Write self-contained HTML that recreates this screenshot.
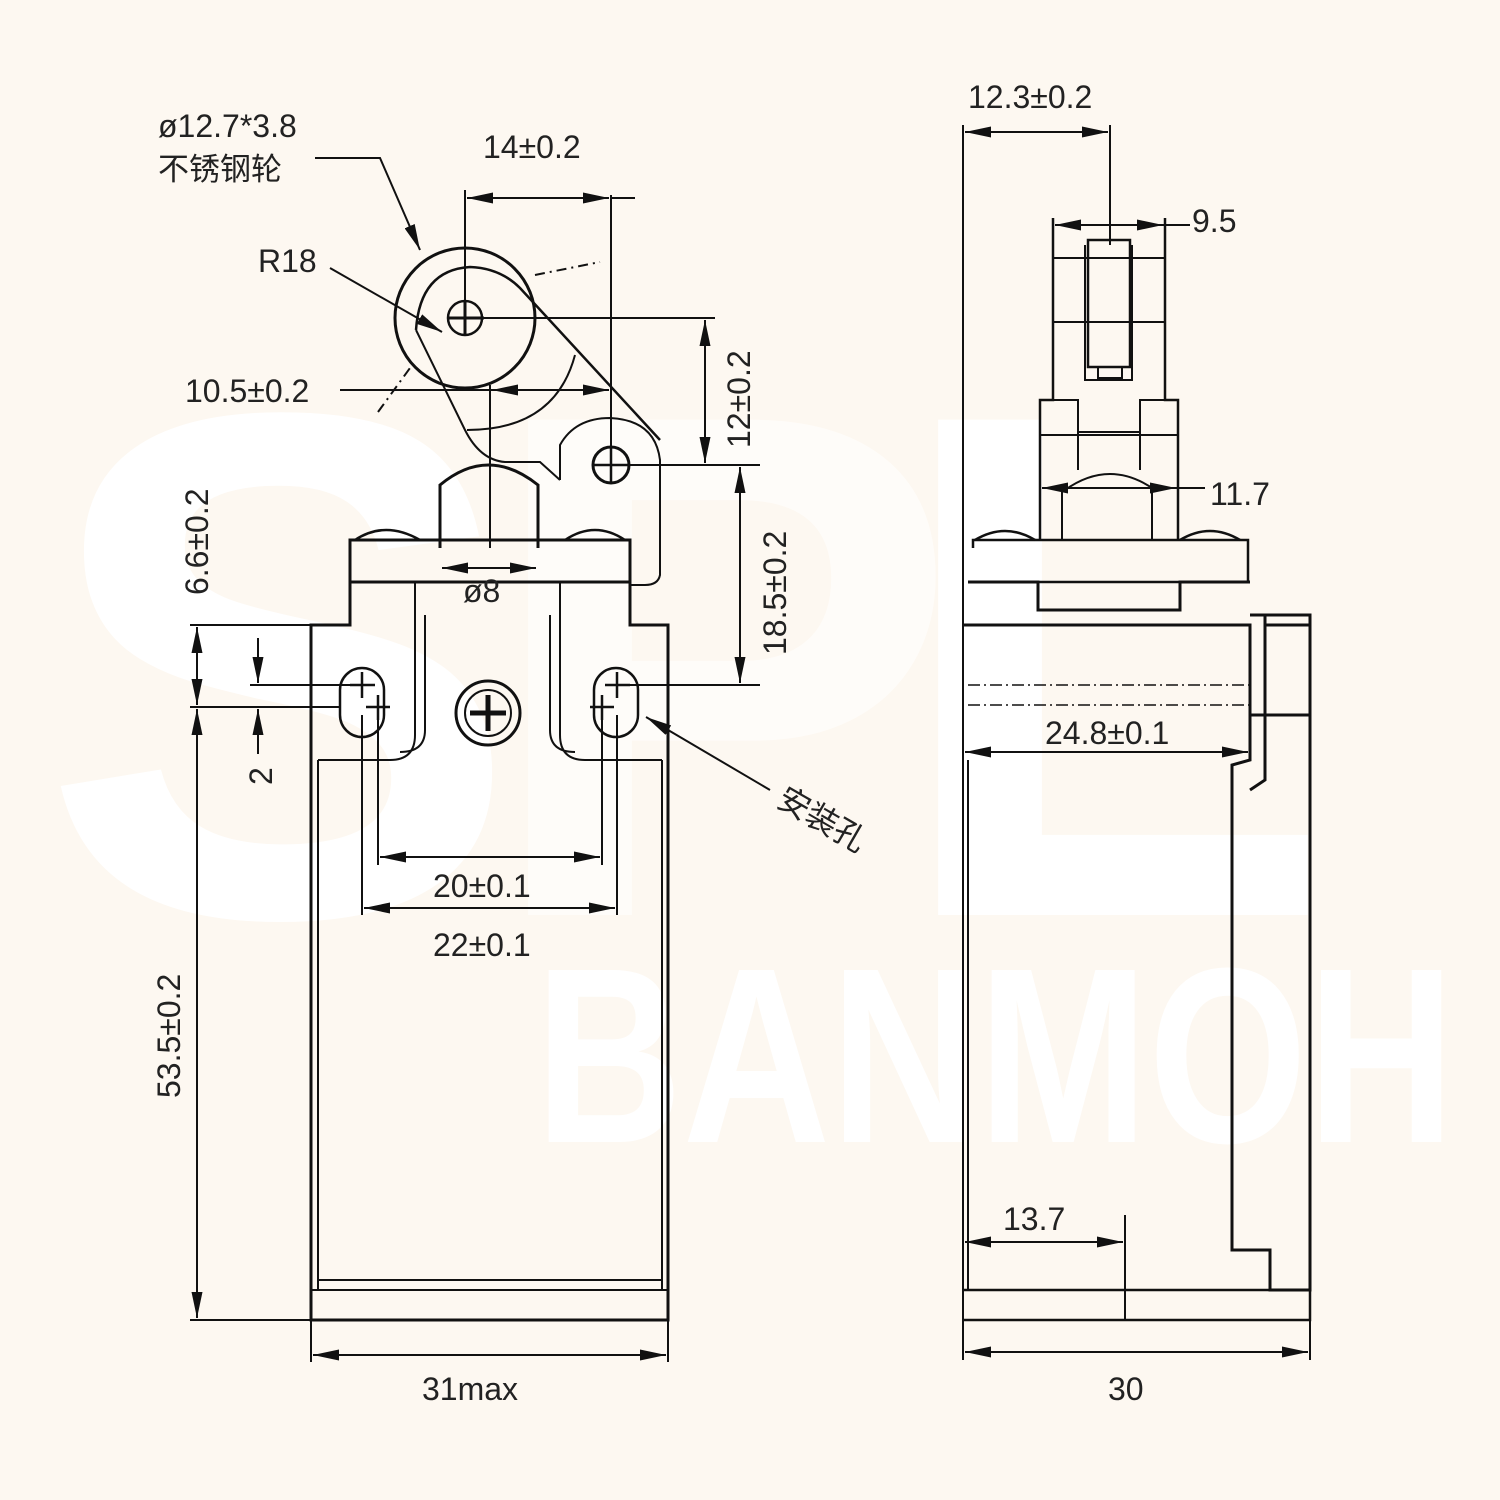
<!DOCTYPE html>
<html><head><meta charset="utf-8"><style>
html,body{margin:0;padding:0;background:#fdf8f1;}
svg{display:block}
text{font-family:"Liberation Sans","Noto Sans CJK SC",sans-serif;fill:#222;}
</style></head><body>
<svg width="1500" height="1500" viewBox="0 0 1500 1500" xmlns="http://www.w3.org/2000/svg">
<defs>
<marker id="a" viewBox="0 0 10 10" refX="10" refY="5" markerWidth="26" markerHeight="11" orient="auto-start-reverse" markerUnits="userSpaceOnUse" preserveAspectRatio="none"><path d="M0,0L10,5L0,10z" fill="#111"/></marker>
</defs>
<rect width="1500" height="1500" fill="#fdf8f1"/>
<g font-family="Liberation Sans, sans-serif" font-weight="bold">
<text x="40" y="915" font-size="720" style="fill:#fff">S</text>
<text x="480" y="915" font-size="720" style="fill:#fff;opacity:.6">P</text>
<text x="890" y="915" font-size="720" style="fill:#fff">L</text>
<text x="535" y="1142" font-size="250" textLength="920" lengthAdjust="spacingAndGlyphs" style="fill:#fff">BANMOH</text>
</g>
<g fill="none" stroke="#111" stroke-width="3">
<path d="M350,582 L350,540 L630,540 L630,582 Z"/>
<path d="M350,582 L350,625 L311,625 L311,1320 L668,1320 L668,625 L630,625 L630,582"/>
<path d="M415,582 L560,582" />
<path d="M415,582 L415,735 Q415,760 390,760 L318,760 M560,582 L560,735 Q560,760 585,760 L662,760" stroke-width="2"/>
<path d="M425,615 L425,730 Q425,752 400,752 M550,615 L550,730 Q550,752 575,752" stroke-width="2"/>
<path d="M318,760 L318,1290 M662,760 L662,1290 M311,1290 L668,1290 M318,1280 L662,1280" stroke-width="2"/>
<path d="M355,540 Q385,520 420,540 M565,540 Q595,520 625,540" stroke-width="2.5"/>
<path d="M440,548 L440,485 Q488,445 538,485 L538,548"/>
<path d="M340,690 a22,22 0 0 1 44,0 L384,715 a22,22 0 0 1 -44,0 Z" stroke-width="2.5"/>
<path d="M594,690 a22,22 0 0 1 44,0 L638,715 a22,22 0 0 1 -44,0 Z" stroke-width="2.5"/>
<circle cx="488" cy="713" r="32"/>
<circle cx="488" cy="713" r="23" stroke-width="2"/>
<path d="M470,713 L506,713 M488,695 L488,731" stroke-width="5"/>
<path d="M350,685 L375,685 M362,672 L362,698 M605,685 L630,685 M617,672 L617,698 M366,707 L390,707 M378,695 L378,720 M590,707 L614,707 M602,695 L602,720" stroke-width="2.5"/>
<circle cx="465" cy="318" r="70"/>
<path d="M416,330 L465,430 Q480,460 505,462 L540,462 L560,480" stroke-width="2"/>
<path d="M416,330 Q420,270 470,267 Q500,268 520,288 L660,440" stroke-width="2.5"/>
<path d="M560,480 L560,445 Q575,418 610,418 Q655,420 660,460 L660,575 Q658,585 645,585 L630,585" stroke-width="2"/>
<path d="M467,430 Q555,430 575,355" stroke-width="2"/>
<circle cx="465" cy="318" r="17" stroke-width="2.5"/>
<path d="M448,318 L484,318 M465,302 L465,335" stroke-width="3"/>
<circle cx="611" cy="465" r="18"/>
<path d="M592,465 L630,465 M611,447 L611,482" stroke-width="2.5"/>
<path d="M535,275 L600,262 M378,412 L410,368" stroke-dasharray="10,5,2,5" stroke-width="2"/>
</g>
<g stroke="#111" stroke-width="2" fill="none">
<path d="M465,190 L465,318 M611,195 L611,465" />
<path d="M467,198 L609,198" marker-start="url(#a)" marker-end="url(#a)"/>
<path d="M611,198 L635,198"/>
<path d="M484,318 L715,318 M630,465 L760,465" />
<path d="M705,320 L705,463" marker-start="url(#a)" marker-end="url(#a)"/>
<path d="M340,390 L495,390 M490,385 L490,548"/>
<path d="M492,390 L609,390" marker-start="url(#a)" marker-end="url(#a)"/>
<path d="M630,685 L760,685"/>
<path d="M740,467 L740,683" marker-start="url(#a)" marker-end="url(#a)"/>
<path d="M442,568 L536,568" marker-start="url(#a)" marker-end="url(#a)"/>
<path d="M190,625 L311,625 M250,685 L350,685 M190,707 L340,707 M190,1320 L311,1320"/>
<path d="M197,627 L197,705" marker-start="url(#a)" marker-end="url(#a)"/>
<path d="M258,638 L258,683" marker-end="url(#a)"/>
<path d="M258,754 L258,709" marker-end="url(#a)"/>
<path d="M197,709 L197,1318" marker-start="url(#a)" marker-end="url(#a)"/>
<path d="M378,720 L378,865 M602,720 L602,865 M362,715 L362,915 M617,715 L617,915"/>
<path d="M380,857 L600,857" marker-start="url(#a)" marker-end="url(#a)"/>
<path d="M364,908 L615,908" marker-start="url(#a)" marker-end="url(#a)"/>
<path d="M311,1320 L311,1362 M668,1320 L668,1362"/>
<path d="M313,1355 L666,1355" marker-start="url(#a)" marker-end="url(#a)"/>
<path d="M315,158 L380,158 L420,250" marker-end="url(#a)"/>
<path d="M330,268 L442,332" marker-end="url(#a)"/>
<path d="M770,790 L646,717" marker-end="url(#a)"/>
</g>
<g fill="none" stroke="#111" stroke-width="3">
<path d="M963,125 L963,1360" stroke-width="2"/>
<path d="M1110,125 L1110,245" stroke-width="2"/>
<path d="M1053,218 L1053,400 L1040,400 L1040,540 M1165,218 L1165,400 L1178,400 L1178,540" stroke-width="2.5"/>
<path d="M1053,258 L1165,258 M1053,322 L1165,322 M1053,400 L1078,400 L1078,432 L1140,432 L1140,400 L1165,400 M1040,435 L1178,435" stroke-width="2"/>
<rect x="1088" y="240" width="42" height="127" stroke-width="2.5"/>
<path d="M1085,245 L1085,380 L1132,380 L1132,245 M1098,367 L1098,378 L1122,378 L1122,367" stroke-width="2"/>
<path d="M1078,432 L1078,470 M1140,432 L1140,470 M1065,490 Q1110,458 1155,490 M1062,490 L1062,540 M1152,490 L1152,540" stroke-width="2"/>
<path d="M973,548 L973,540 L1248,540 L1248,582 L973,582" stroke-width="2.5"/>
<path d="M975,540 Q1005,522 1035,540 M1180,540 Q1210,522 1240,540" stroke-width="2.5"/>
<path d="M968,582 L1038,582 L1038,610 L1180,610 L1180,582 L1250,582"/>
<path d="M963,625 L1250,625 L1250,760 L1232,765 L1232,1250 L1270,1250 L1270,1290 L1310,1290 L1310,615 L1250,615 M1265,615 L1265,780 L1250,790"/>
<path d="M968,685 L1250,685 M968,705 L1250,705" stroke-width="1.5" stroke-dasharray="12,4,2,4"/>
<path d="M1250,715 L1310,715 M1265,625 L1310,625"/>
<path d="M963,1290 L1310,1290 L1310,1320 L963,1320" stroke-width="2.5"/>
<path d="M968,760 L968,1290" stroke-width="2"/>
</g>
<g stroke="#111" stroke-width="2" fill="none">
<path d="M965,132 L1108,132" marker-start="url(#a)" marker-end="url(#a)"/>
<path d="M1055,225 L1163,225" marker-start="url(#a)" marker-end="url(#a)"/>
<path d="M1162,225 L1190,225"/>
<path d="M1042,488 L1176,488" marker-start="url(#a)" marker-end="url(#a)"/>
<path d="M1175,488 L1205,488"/>
<path d="M965,752 L1248,752" marker-start="url(#a)" marker-end="url(#a)"/>
<path d="M1125,1215 L1125,1320"/>
<path d="M965,1242 L1123,1242" marker-start="url(#a)" marker-end="url(#a)"/>
<path d="M1310,1320 L1310,1360"/>
<path d="M965,1352 L1308,1352" marker-start="url(#a)" marker-end="url(#a)"/>
</g>
<g font-size="32">
<text x="158" y="137">ø12.7*3.8</text>
<text x="158" y="180" font-size="31">不锈钢轮</text>
<text x="483" y="158">14±0.2</text>
<text x="258" y="272">R18</text>
<text x="185" y="402">10.5±0.2</text>
<text x="463" y="602">ø8</text>
<text x="433" y="897">20±0.1</text>
<text x="433" y="956">22±0.1</text>
<text x="422" y="1400">31max</text>
<text x="968" y="108">12.3±0.2</text>
<text x="1192" y="232">9.5</text>
<text x="1210" y="505">11.7</text>
<text x="1045" y="744">24.8±0.1</text>
<text x="1003" y="1230">13.7</text>
<text x="1108" y="1400">30</text>
<text transform="translate(750,448) rotate(-90)">12±0.2</text>
<text transform="translate(786,655) rotate(-90)">18.5±0.2</text>
<text transform="translate(208,595) rotate(-90)">6.6±0.2</text>
<text transform="translate(272,785) rotate(-90)">2</text>
<text transform="translate(180,1098) rotate(-90)">53.5±0.2</text>
<text transform="translate(775,805) rotate(30)">安装孔</text>
</g>
</svg>
</body></html>
